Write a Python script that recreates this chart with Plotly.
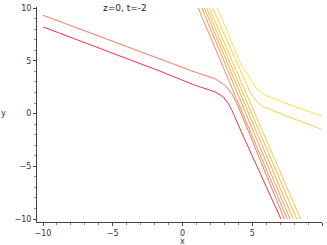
import plotly.graph_objects as go

# Contour lines (data coordinates)
c1_x = [-10, -1.61, 0.90, 2.33, 2.92, 3.28, 3.53, 4.36, 7.06]
c1_y = [8.22, 4.02, 2.68, 2.06, 1.59, 0.96, 0.35, -2.15, -10]
c2_x = [-10, -1.61, 0.90, 2.33, 3.05, 3.53, 3.89, 4.24, 7.30]
c2_y = [9.32, 5.17, 3.93, 3.30, 2.68, 1.90, 0.96, -0.12, -10]
c3_x = [1.13, 7.51]
c3_y = [10, -10]
c4_x = [1.38, 7.71]
c4_y = [10, -10]
c5_x = [1.56, 7.94]
c5_y = [10, -10]
c6_x = [1.73, 8.19]
c6_y = [10, -10]
c7_x = [1.92, 8.47]
c7_y = [10, -10]
c8_x = [2.16, 4.12, 4.84, 5.32, 5.79, 7.23, 10]
c8_y = [10, 4.08, 2.06, 1.12, 0.65, -0.12, -1.52]
c9_x = [2.51, 4.12, 4.72, 5.32, 5.91, 7.71, 10]
c9_y = [10, 4.86, 3.62, 2.34, 1.75, 0.81, -0.23]

contours_x = [c1_x, c2_x, c3_x, c4_x, c5_x, c6_x, c7_x, c8_x, c9_x]
contours_y = [c1_y, c2_y, c3_y, c4_y, c5_y, c6_y, c7_y, c8_y, c9_y]
colors = ["#f0304a", "#f87860", "#f88a58", "#f89a50", "#f8aa48",
          "#f8ba40", "#fac640", "#fcd040", "#ffe040"]

tick_vals = [-10, -5, 0, 5, 10]
title_text = "z=0, t=-2"

fig = go.Figure()
for xs, ys, col in zip(contours_x, contours_y, colors):
    fig.add_trace(go.Scatter(x=xs, y=ys, mode="lines",
                             line=dict(color=col, width=1),
                             showlegend=False, hoverinfo="skip"))

axis_common = dict(
    showgrid=False, zeroline=False, showline=True, linecolor="#444",
    linewidth=1, ticks="outside", ticklen=3, tickcolor="#444",
    tickvals=tick_vals, tickfont=dict(family="DejaVu Sans", size=8, color="#333"),
    minor=dict(dtick=1, ticks="outside", ticklen=2, tickcolor="#888"),
)
fig.update_xaxes(range=[-10.43, 10], **axis_common)
fig.update_yaxes(range=[-10.28, 10.1], **axis_common)

fig.update_layout(
    width=327, height=245,
    margin=dict(l=37, r=5, t=4, b=23),
    paper_bgcolor="white", plot_bgcolor="white",
    annotations=[
        dict(text=title_text, x=0.309, y=0.995, xref="paper", yref="paper",
             xanchor="center", yanchor="middle", showarrow=False,
             font=dict(family="DejaVu Sans", size=9, color="#222")),
        dict(text="x", x=0, y=-0.092, xref="x", yref="paper",
             xanchor="center", yanchor="middle", showarrow=False,
             font=dict(family="DejaVu Sans", size=8, color="#333")),
        dict(text="y", x=-0.119, y=0, xref="paper", yref="y",
             xanchor="center", yanchor="middle", showarrow=False,
             font=dict(family="DejaVu Sans", size=8, color="#333")),
    ],
)

fig.write_html("out.html",
               config={"displayModeBar": False, "staticPlot": True},
               post_script="document.body.style.margin='0';document.body.style.overflow='hidden';")
